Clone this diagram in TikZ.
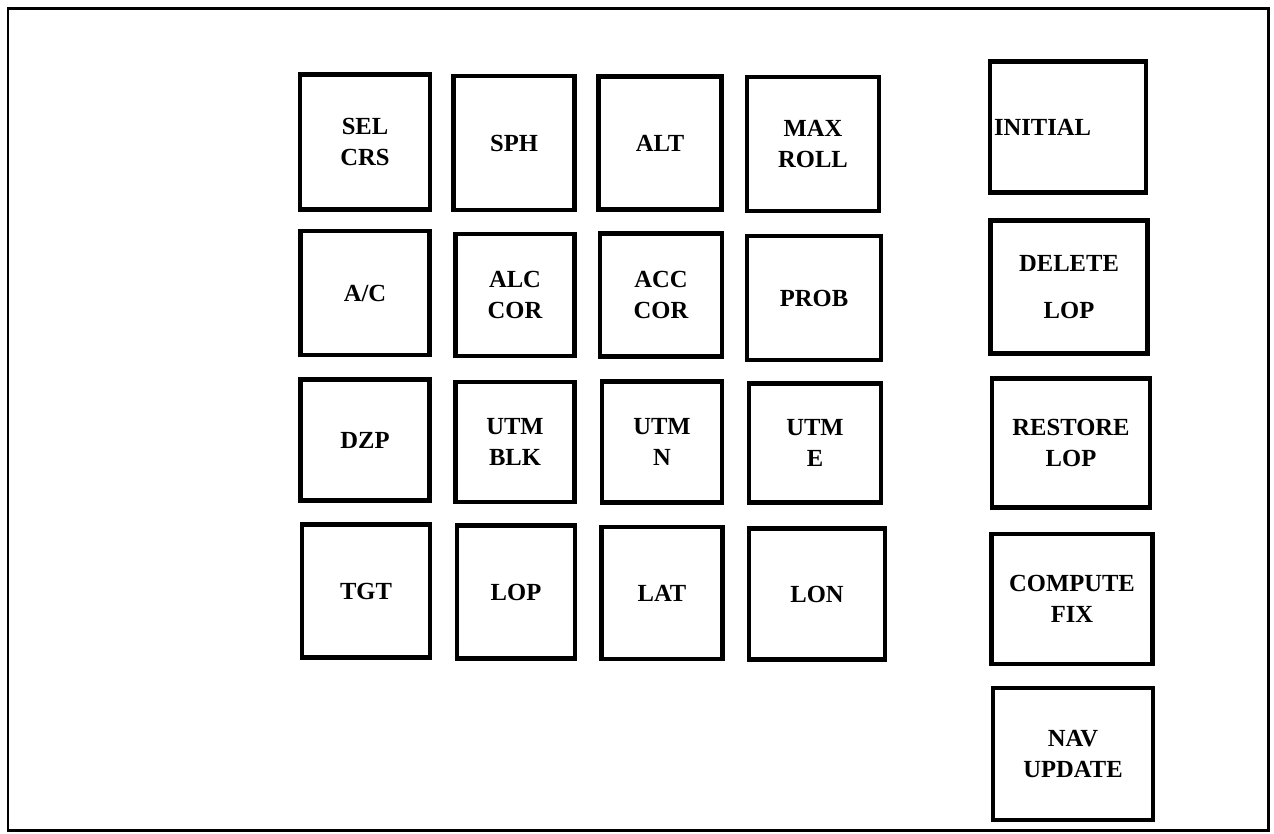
\documentclass[tikz,border=0pt]{standalone}
\usepackage{fontspec}
\setmainfont{Liberation Serif}

\begin{document}
\begin{tikzpicture}[x=0.02cm, y=-0.02cm,
    keybox/.style={draw, line width=2.4pt, inner sep=0pt, align=center,
        font=\fontsize{14}{18}\selectfont\bfseries}]
    % Rahmen des Bildes
    \useasboundingbox (0,0) rectangle (1274,833);
    \draw[line width=1.7pt] (8,8) rectangle (1268,830);

    % --- Tastenfeld 4x4 ---
    % Zeile 1
    \node[keybox, minimum width=2.60cm, minimum height=2.70cm] (selcrs) at (365,142) {SEL\\CRS};
    \node[keybox, minimum width=2.42cm, minimum height=2.68cm] (sph) at (514,143) {SPH};
    \node[keybox, minimum width=2.46cm, minimum height=2.66cm] (alt) at (660,143) {ALT};
    \node[keybox, minimum width=2.64cm, minimum height=2.68cm] (maxroll) at (813,144) {MAX\\ROLL};
    % Zeile 2
    \node[keybox, minimum width=2.58cm, minimum height=2.48cm] (ac) at (365,293) {A/C};
    \node[keybox, minimum width=2.38cm, minimum height=2.44cm] (alccor) at (515,295) {ALC\\COR};
    \node[keybox, minimum width=2.44cm, minimum height=2.46cm] (acccor) at (661,295) {ACC\\COR};
    \node[keybox, minimum width=2.68cm, minimum height=2.48cm] (prob) at (814,298) {PROB};
    % Zeile 3
    \node[keybox, minimum width=2.58cm, minimum height=2.42cm] (dzp) at (365,440) {DZP};
    \node[keybox, minimum width=2.38cm, minimum height=2.40cm] (utmblk) at (515,442) {UTM\\BLK};
    \node[keybox, minimum width=2.40cm, minimum height=2.42cm] (utmn) at (662,442) {UTM\\N};
    \node[keybox, minimum width=2.64cm, minimum height=2.38cm] (utme) at (815,443) {UTM\\E};
    % Zeile 4
    \node[keybox, minimum width=2.56cm, minimum height=2.66cm] (tgt) at (366,591) {TGT};
    \node[keybox, minimum width=2.36cm, minimum height=2.66cm] (lop) at (516,592) {LOP};
    \node[keybox, minimum width=2.42cm, minimum height=2.64cm] (lat) at (662,593) {LAT};
    \node[keybox, minimum width=2.72cm, minimum height=2.62cm] (lon) at (817,594) {LON};

    % --- Funktionstasten rechts ---
    \node[keybox, minimum width=3.12cm, minimum height=2.62cm, text width=2.96cm, align=left] (initial) at (1068,127) {INITIAL};
    \node[keybox, minimum width=3.14cm, minimum height=2.66cm, font=\fontsize{14}{27}\selectfont\bfseries] (deletelop) at (1069,287) {DELETE\\LOP};
    \node[keybox, minimum width=3.16cm, minimum height=2.58cm] (restorelop) at (1071,443) {RESTORE\\LOP};
    \node[keybox, minimum width=3.22cm, minimum height=2.60cm] (computefix) at (1072,599) {COMPUTE\\FIX};
    \node[keybox, minimum width=3.20cm, minimum height=2.64cm] (navupdate) at (1073,754) {NAV\\UPDATE};
\end{tikzpicture}
\end{document}
